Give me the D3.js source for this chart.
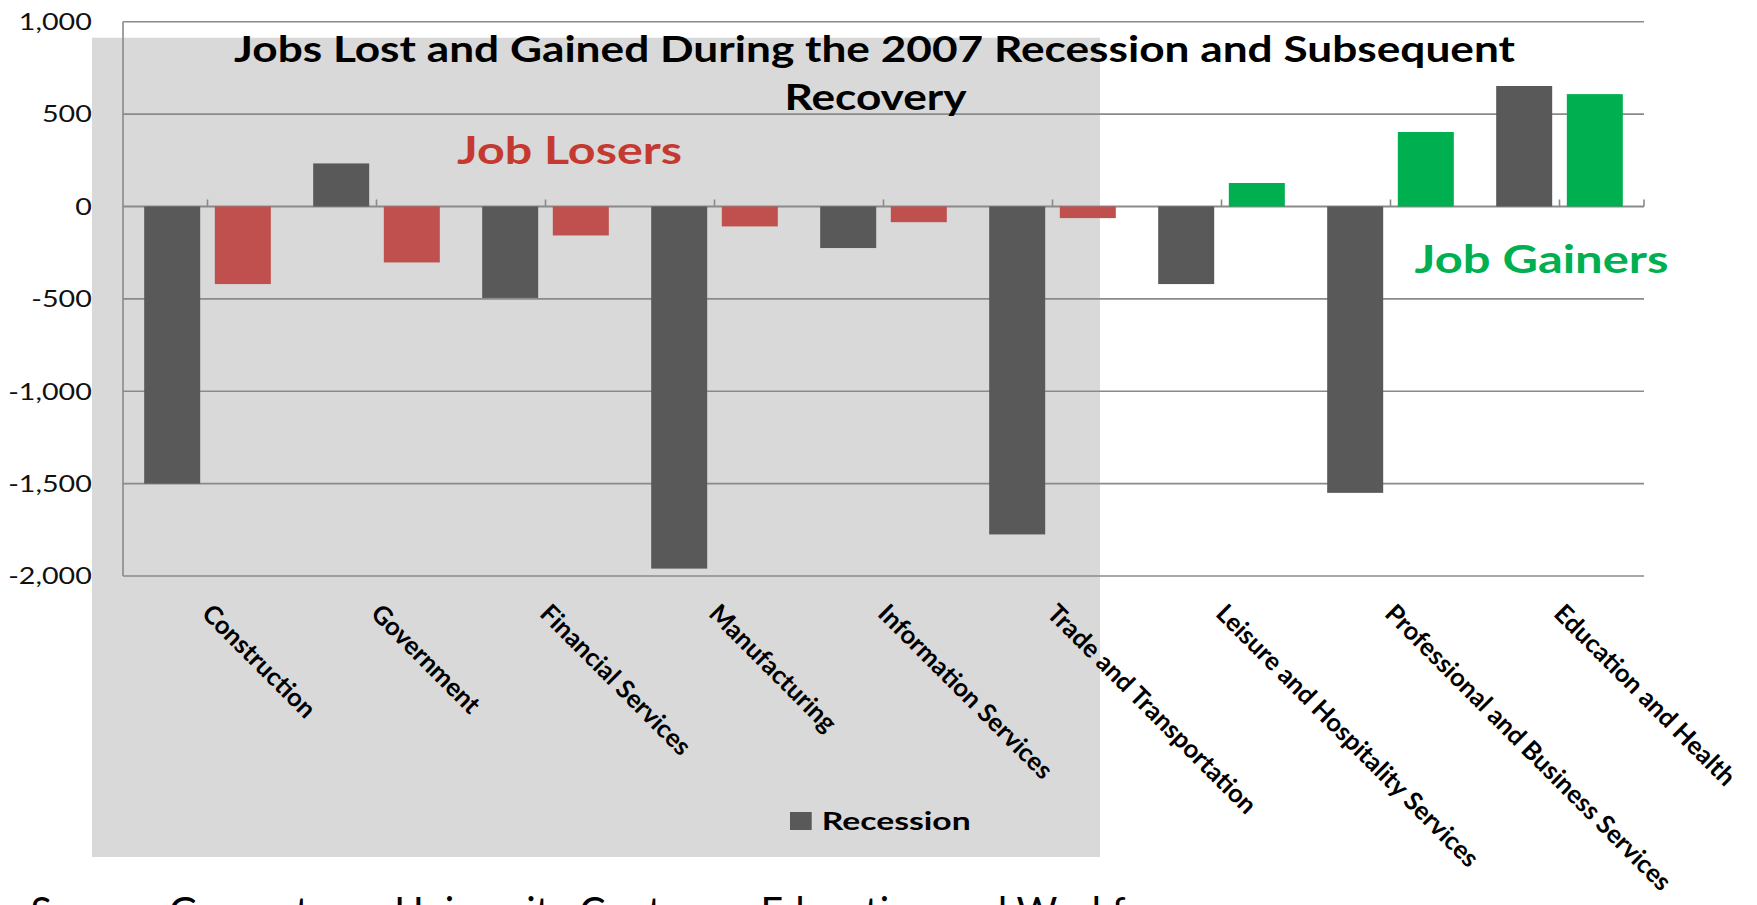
<!DOCTYPE html>
<html><head><meta charset="utf-8">
<script src="https://cdn.jsdelivr.net/npm/d3@7"></script>
<style>html,body{margin:0;padding:0;background:#fff;overflow:hidden}</style>
</head><body>
<svg id="chart" width="1757" height="905"></svg>
<script>
// ---------- data ----------
const categories = ["Construction","Government","Financial Services","Manufacturing","Information Services","Trade and Transportation","Leisure and Hospitality Services","Professional and Business Services","Education and Health"];
const recession = [-1500, 233, -495, -1960, -225, -1775, -420, -1550, 652];
const recovery  = [-420, -303, -157, -108, -85, -63, 127, 403, 608];
const seriesNames = ["Recession", "Recovery"];
const yTicks = [1000, 500, 0, -500, -1000, -1500, -2000];
const titleLines = ["Jobs Lost and Gained During the 2007 Recession and Subsequent", "Recovery"];
const loserLabel = "Job Losers";
const gainerLabel = "Job Gainers";
const sourceText = "Source: Georgetown University Center on Education and Workforce";

// ---------- styles ----------
const FONT = "Lato, 'Open Sans', sans-serif";
const C_GRAY_BAR = "#595959", C_RED = "#C0504D", C_GREEN = "#00B050";
const C_BG = "#D9D9D9", C_GRID = "#8A8A8A";
const fmt = v => d3.format(",")(v).replace("\u2212", "-");

const svg = d3.select("#chart");
const plot = {left: 123, right: 1644, top: 21.7, bottom: 576};

// shaded background panel (left portion)
svg.append("rect").attr("x", 92).attr("y", 37.7).attr("width", 1100 - 92).attr("height", 857 - 37.7).attr("fill", C_BG);

// scales
const x0 = d3.scaleBand().domain(categories).range([plot.left, plot.right]).paddingInner(0).paddingOuter(0);
const x1 = d3.scaleBand().domain(seriesNames).range([0, x0.bandwidth()]).paddingInner(0.207).paddingOuter(0.30);
const y = d3.scaleLinear().domain([-2000, 1000]).range([plot.bottom, plot.top]);

// gridlines
svg.append("g").selectAll("line").data(yTicks).join("line")
  .attr("x1", plot.left).attr("x2", plot.right)
  .attr("y1", d => y(d)).attr("y2", d => y(d))
  .attr("stroke", C_GRID).attr("stroke-width", d => d === 0 ? 2 : 1.6);
// left border of plot
svg.append("line").attr("x1", plot.left).attr("x2", plot.left).attr("y1", y(1000)).attr("y2", y(-2000))
  .attr("stroke", C_GRID).attr("stroke-width", 1.6);

// category ticks on zero axis (at category centers + right end)
const tickXs = categories.map(c => x0(c) + x0.bandwidth() / 2).concat([plot.right]);
svg.append("g").selectAll("line").data(tickXs).join("line")
  .attr("x1", d => d).attr("x2", d => d).attr("y1", y(0)).attr("y2", y(0) - 7)
  .attr("stroke", C_GRID).attr("stroke-width", 1.6);

// bars
const rows = categories.map((c, i) => ({cat: c, vals: [recession[i], recovery[i]]}));
const g = svg.append("g").selectAll("g").data(rows).join("g").attr("transform", d => `translate(${x0(d.cat)},0)`);
g.selectAll("rect").data(d => d.vals.map((v, j) => ({s: seriesNames[j], v}))).join("rect")
  .attr("x", d => x1(d.s)).attr("width", x1.bandwidth())
  .attr("y", d => Math.min(y(d.v), y(0))).attr("height", d => Math.abs(y(d.v) - y(0)))
  .attr("fill", d => d.s === "Recession" ? C_GRAY_BAR : (d.v < 0 ? C_RED : C_GREEN));

// y tick labels (horizontally widened glyphs like the reference)
const probe = svg.append("text").attr("font-family", FONT).attr("font-size", 23).text(fmt(1000));
const sx = 73 / probe.node().getComputedTextLength();
probe.remove();
svg.append("g").selectAll("text").data(yTicks).join("text")
  .attr("transform", d => `translate(91.8,${y(d) + 8.3}) scale(${sx},1)`)
  .attr("text-anchor", "end").attr("font-family", FONT).attr("font-size", 23).attr("fill", "#111")
  .text(d => fmt(d));

// category labels rotated 45°
svg.append("g").selectAll("text").data(categories).join("text")
  .attr("transform", d => `translate(${x0(d) + x0.bandwidth() / 2 - 7},${plot.bottom + 39}) rotate(45)`)
  .attr("font-family", FONT).attr("font-weight", 700).attr("font-size", 25.5).attr("fill", "#000")
  .text(d => d);

// title
svg.append("text").attr("x", 234).attr("y", 62).attr("textLength", 1281).attr("lengthAdjust", "spacingAndGlyphs")
  .attr("font-family", FONT).attr("font-weight", 700).attr("font-size", 37).attr("fill", "#000").text(titleLines[0]);
svg.append("text").attr("x", 784.5).attr("y", 110).attr("textLength", 182).attr("lengthAdjust", "spacingAndGlyphs")
  .attr("font-family", FONT).attr("font-weight", 700).attr("font-size", 37).attr("fill", "#000").text(titleLines[1]);

// annotations
svg.append("text").attr("x", 457).attr("y", 164).attr("textLength", 225).attr("lengthAdjust", "spacingAndGlyphs")
  .attr("font-family", FONT).attr("font-weight", 700).attr("font-size", 38).attr("fill", "#C43A31").text(loserLabel);
svg.append("text").attr("x", 1414.5).attr("y", 273.3).attr("textLength", 254).attr("lengthAdjust", "spacingAndGlyphs")
  .attr("font-family", FONT).attr("font-weight", 700).attr("font-size", 39).attr("fill", C_GREEN).text(gainerLabel);

// legend
svg.append("rect").attr("x", 790).attr("y", 812).attr("width", 21.7).attr("height", 18).attr("fill", C_GRAY_BAR);
svg.append("text").attr("x", 821.7).attr("y", 830).attr("textLength", 149).attr("lengthAdjust", "spacingAndGlyphs")
  .attr("font-family", FONT).attr("font-weight", 700).attr("font-size", 24).attr("fill", "#000").text(seriesNames[0]);

// source line (clipped by the bottom edge, as in the reference)
const src = svg.append("text").attr("x", 30.6).attr("y", 925.5)
  .attr("font-family", FONT).attr("font-size", 40).attr("fill", "#000").text(sourceText);
const prefixLen = src.node().getSubStringLength(0, sourceText.indexOf("Workf") + 5);
const fullLen = src.node().getComputedTextLength();
src.attr("textLength", fullLen * (1125 - 30.6) / prefixLen).attr("lengthAdjust", "spacingAndGlyphs");
</script>
</body></html>
